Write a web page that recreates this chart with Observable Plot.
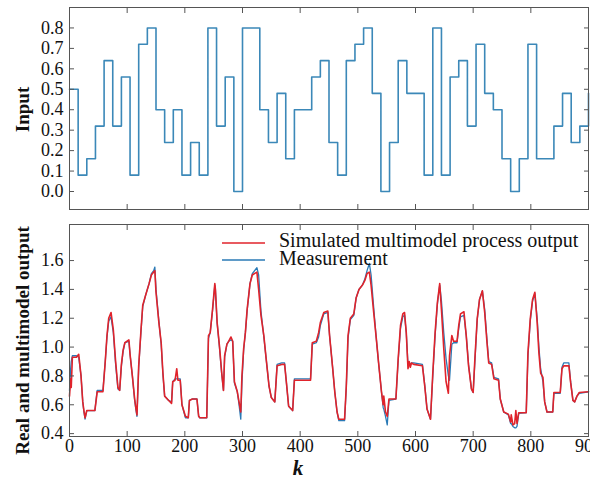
<!DOCTYPE html>
<html><head><meta charset="utf-8">
<script src="https://cdn.jsdelivr.net/npm/d3@7"></script>
<script src="https://cdn.jsdelivr.net/npm/@observablehq/plot@0.6"></script>
<style>
body{margin:0;background:#fff}
#chart{position:relative;width:590px;height:483px;overflow:hidden}
#chart svg{display:block;overflow:visible}
#chart svg text{font-family:'Liberation Serif','Times New Roman',serif}
</style>
</head><body><div id="chart"></div>
<script>
// ---- data ----
const stepK = [0,15,30,45,60,75,90,105,120,135,150,165,180,195,210,225,240,255,270,285,300,315,330,345,360,375,390,405,420,435,450,465,480,495,510,525,540,555,570,585,600,615,630,645,660,675,690,705,720,735,750,765,780,795,810,825,840,855,870,885,900];
const inputLevels = [0.5,0.08,0.16,0.32,0.64,0.32,0.56,0.08,0.72,0.8,
  0.4,0.24,0.4,0.08,0.24,0.08,0.8,0.32,0.56,0.0,
  0.8,0.8,0.4,0.24,0.48,0.16,0.4,0.4,0.56,0.64,
  0.24,0.08,0.64,0.72,0.8,0.48,0.0,0.24,0.64,0.48,
  0.48,0.08,0.8,0.08,0.56,0.64,0.32,0.72,0.48,0.4,
  0.16,0.0,0.16,0.72,0.16,0.16,0.32,0.48,0.24,0.32,
  0.48];

const outputK = [0,2,3,5,12,16,20,23,25,27,30,44,48,58,62,65,68,72,76,80,84,87,90,93,96,103,105,109,113,115,117,120,124,127,132,138,142,146,148,150,155,159,162,165,172,177,179,183,186,188,192,195,201,206,208,213,221,224,226,238,241,244,248,252,253,256,260,264,267,269,273,276,280,283,286,291,294,297,299,302,305,308,313,317,325,328,332,337,341,346,350,356,360,368,373,376,380,387,390,418,421,428,432,435,441,448,451,456,460,464,467,477,480,483,487,493,497,502,508,512,516,520,523,528,532,536,541,544,545,548,551,554,566,570,574,578,581,584,587,589,591,593,597,612,616,620,626,630,634,638,642,645,649,653,657,659,663,666,672,675,678,684,688,692,697,700,703,707,711,716,720,724,727,732,736,744,747,753,761,765,766,769,772,774,776,779,792,795,799,803,807,811,814,817,821,824,828,838,840,851,854,857,866,869,873,876,880,884,900];

const simulated = [0.66,0.78,0.72,0.93,0.93,0.95,0.80,0.62,0.56,0.51,0.56,0.56,0.69,0.69,0.90,1.08,1.20,1.24,1.12,0.90,0.72,0.70,0.88,0.98,1.03,1.05,0.95,0.80,0.64,0.58,0.53,0.87,1.12,1.29,1.36,1.44,1.50,1.52,1.53,1.38,1.17,1.03,0.82,0.66,0.63,0.61,0.76,0.77,0.85,0.77,0.77,0.60,0.52,0.51,0.63,0.64,0.64,0.52,0.51,0.51,1.08,1.10,1.26,1.44,1.40,1.17,1.01,0.82,0.70,0.94,1.02,1.04,1.07,1.04,0.76,0.69,0.62,0.55,0.80,0.99,1.10,1.26,1.44,1.50,1.52,1.40,1.22,1.08,0.92,0.73,0.65,0.62,0.87,0.88,0.88,0.76,0.59,0.56,0.77,0.77,1.03,1.04,1.10,1.17,1.24,1.25,1.08,0.87,0.69,0.55,0.50,0.50,0.73,1.08,1.20,1.23,1.34,1.40,1.43,1.46,1.51,1.52,1.43,1.22,1.06,0.89,0.69,0.60,0.66,0.55,0.52,0.64,0.64,0.92,1.15,1.23,1.24,1.10,0.85,0.90,0.86,0.89,0.88,0.87,0.73,0.57,0.50,0.82,1.10,1.31,1.44,1.26,0.99,0.76,0.68,0.94,1.08,1.04,1.04,1.15,1.23,1.245,1.08,0.87,0.71,0.685,0.92,1.195,1.33,1.39,1.24,1.03,0.89,0.88,0.78,0.77,0.64,0.55,0.535,0.48,0.53,0.46,0.47,0.56,0.47,0.545,0.545,0.96,1.195,1.33,1.38,1.17,0.96,0.82,0.79,0.62,0.55,0.55,0.685,0.685,0.85,0.87,0.87,0.755,0.63,0.62,0.66,0.685,0.69];

const measured = [0.70,0.85,0.90,0.94,0.94,0.93,0.80,0.62,0.55,0.50,0.56,0.56,0.70,0.70,0.90,1.07,1.18,1.21,1.10,0.88,0.71,0.70,0.87,0.97,1.03,1.04,0.95,0.80,0.63,0.57,0.52,0.86,1.11,1.28,1.36,1.44,1.51,1.53,1.555,1.40,1.18,1.02,0.81,0.66,0.63,0.62,0.76,0.78,0.78,0.78,0.78,0.60,0.51,0.51,0.63,0.64,0.64,0.52,0.51,0.51,1.06,1.10,1.25,1.43,1.40,1.17,1.00,0.81,0.70,0.93,1.02,1.04,1.05,1.04,0.75,0.69,0.60,0.50,0.75,0.98,1.10,1.25,1.44,1.51,1.55,1.50,1.25,1.07,0.92,0.73,0.65,0.62,0.88,0.89,0.89,0.76,0.59,0.56,0.78,0.78,1.02,1.03,1.07,1.15,1.23,1.24,1.08,0.87,0.69,0.55,0.49,0.49,0.72,1.06,1.19,1.22,1.34,1.40,1.43,1.47,1.53,1.58,1.50,1.25,1.06,0.89,0.69,0.58,0.57,0.52,0.46,0.63,0.64,0.91,1.13,1.21,1.22,1.10,0.88,0.88,0.88,0.89,0.89,0.88,0.74,0.57,0.50,0.80,1.08,1.30,1.43,1.32,1.10,0.92,0.80,0.77,1.02,1.03,1.03,1.13,1.21,1.22,1.08,0.88,0.71,0.685,0.90,1.19,1.33,1.39,1.26,1.05,0.90,0.89,0.79,0.78,0.64,0.55,0.53,0.47,0.47,0.45,0.44,0.44,0.45,0.54,0.545,0.94,1.18,1.32,1.37,1.20,1.00,0.85,0.76,0.62,0.55,0.55,0.68,0.68,0.86,0.89,0.89,0.76,0.63,0.62,0.66,0.68,0.69];

const xTicks = [0,100,200,300,400,500,600,700,800,900];
const inputTicks = [0.0,0.1,0.2,0.3,0.4,0.5,0.6,0.7,0.8];
const outputTicks = [0.4,0.6,0.8,1.0,1.2,1.4,1.6];
const seriesNames = ["Simulated multimodel process output","Measurement"];
const yLabels = ["Input","Real and multimodel output"];
const xLabel = "k";

// ---- build ----
const BLUE_IN = "#3b88b8";
const BLUE = "#2a7ab6";
const RED = "#e0232b";
const FRAME = "#555";
const FONT = "'Liberation Serif', 'Times New Roman', serif";

const inputData = stepK.map((k,i)=>({k, v: inputLevels[i]}));
const n = Math.min(outputK.length, simulated.length, measured.length);
const simData = [], measData = [];
for (let i=0;i<n;i++){ simData.push({k: outputK[i], v: simulated[i]}); measData.push({k: outputK[i], v: measured[i]}); }

function inwardAxes(xt, yt, fmtY, showXLabels){
  const m = [
    Plot.axisX({ticks: xt, anchor:"bottom", tickSize:5, dy:-5, tickFormat:()=>"", stroke:FRAME, label:null}),
    Plot.axisX({ticks: xt, anchor:"top", tickSize:5, dy:5, tickFormat:()=>"", stroke:FRAME, label:null}),
    Plot.axisY({ticks: yt, anchor:"left", tickSize:5, dx:5, tickFormat:()=>"", stroke:FRAME, label:null}),
    Plot.axisY({ticks: yt, anchor:"right", tickSize:5, dx:-5, tickFormat:()=>"", stroke:FRAME, label:null}),
    Plot.axisY({ticks: yt, anchor:"left", tickSize:0, tickPadding:6, tickFormat:fmtY, label:null, fill:"#111", fontSize:18, fontFamily:FONT, fontVariant:"normal"})
  ];
  if (showXLabels) m.push(Plot.axisX({ticks: xt, anchor:"bottom", tickSize:0, tickPadding:3, tickFormat:d=>String(d), label:null, fill:"#111", fontSize:18, fontFamily:FONT, fontVariant:"normal"}));
  return m;
}

const topPlot = Plot.plot({
  width: 590, height: 215,
  marginLeft: 69, marginRight: 2, marginTop: 7, marginBottom: 6,
  style: {fontSize: "18px", background: "#fff", color: "#111"},
  x: {domain: [0, 900]},
  y: {domain: [-0.088, 0.90]},
  marks: [
    Plot.line(inputData, {x:"k", y:"v", curve:"step-after", stroke: BLUE_IN, strokeWidth: 1.6}),
    ...inwardAxes(xTicks, inputTicks, d=>d.toFixed(1), false),
    Plot.frame({stroke: FRAME, strokeWidth: 1}),
    Plot.text([yLabels[0]], {text: d=>d, frameAnchor:"left", textAnchor:"middle", lineAnchor:"middle", dx:-47, dy:1, rotate:-90, fontWeight:"bold", fontSize:19, fill:"#111"})
  ]
});

const bottomPlot = Plot.plot({
  width: 590, height: 268,
  marginLeft: 69, marginRight: 2, marginTop: 9, marginBottom: 47,
  style: {fontSize: "18px", background: "#fff", color: "#111"},
  x: {domain: [0, 900]},
  y: {domain: [0.38, 1.85]},
  marks: [
    Plot.line(measData, {x:"k", y:"v", stroke: BLUE, strokeWidth: 1.3}),
    Plot.line(simData, {x:"k", y:"v", stroke: RED, strokeWidth: 1.6}),
    ...inwardAxes(xTicks, outputTicks, d=>d.toFixed(1), true),
    Plot.frame({stroke: FRAME, strokeWidth: 1}),
    Plot.text([yLabels[1]], {text: d=>d, frameAnchor:"left", textAnchor:"middle", lineAnchor:"middle", dx:-47, dy:10, rotate:-90, fontWeight:"bold", fontSize:19, fill:"#111"}),
    Plot.text([xLabel], {text: d=>d, frameAnchor:"bottom", textAnchor:"middle", dx:-31, dy:38, fontWeight:"bold", fontStyle:"italic", fontSize:21, fill:"#111"})
  ]
});

const chart = document.getElementById("chart");
chart.appendChild(topPlot);
chart.appendChild(bottomPlot);

// legend (inside bottom panel, upper middle)
const svg = d3.select(bottomPlot);
const lg = svg.append("g").attr("font-size", 20).attr("fill", "#111").attr("text-anchor", "start");
const legendColors = [RED, BLUE];
const legendWidths = [1.6, 1.3];
const legendLineY = [28, 45];
const legendTextY = [32, 50];
seriesNames.forEach((name, i) => {
  lg.append("line").attr("x1", 222).attr("x2", 265).attr("y1", legendLineY[i]).attr("y2", legendLineY[i])
    .attr("stroke", legendColors[i]).attr("stroke-width", legendWidths[i]);
  lg.append("text").attr("x", 279).attr("y", legendTextY[i]).attr("text-anchor", "start").text(name);
});
d3.select(chart).selectAll("text").style("font-family", FONT);
</script>
</body></html>
